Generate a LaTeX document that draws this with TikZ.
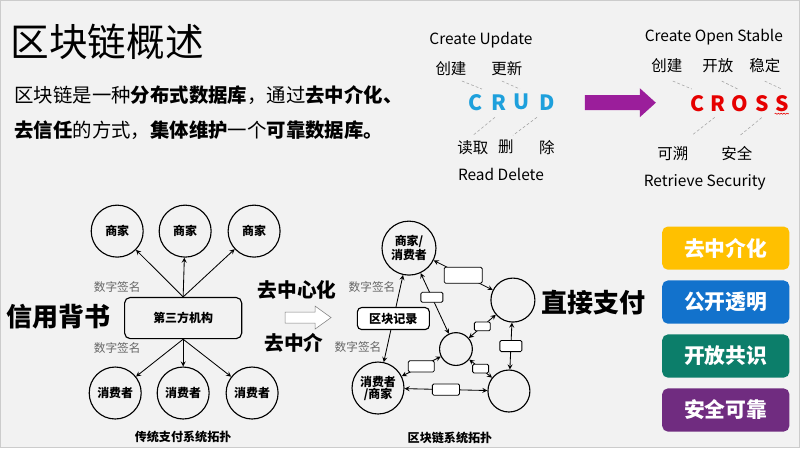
\documentclass[tikz,border=0pt]{standalone}
\usepackage{fontspec}
\setmainfont{Noto Sans CJK SC}
\usetikzlibrary{decorations.pathmorphing}
\definecolor{bg}{RGB}{242,242,242}
\definecolor{crudblue}{RGB}{30,160,220}
\definecolor{crossred}{RGB}{230,0,0}
\definecolor{arrowpurple}{RGB}{155,30,155}
\definecolor{boxyellow}{RGB}{255,192,0}
\definecolor{boxblue}{RGB}{18,114,204}
\definecolor{boxgreen}{RGB}{12,126,106}
\definecolor{boxpurple}{RGB}{112,44,128}
\newcommand{\fsz}[1]{\fontsize{#1}{#1}\selectfont}
\tikzset{
    ttl/.style={font=\fsz{27.5}, inner sep=0pt},
    intro/.style={font=\fsz{13.8}, inner sep=0pt},
    lbl/.style={font=\fsz{11}, inner sep=1pt},
    letter/.style={font=\fsz{15}\bfseries, inner sep=0pt},
    hint/.style={gray!70, dashed, dash pattern=on 2pt off 1.5pt},
    circ/.style={draw, circle, line width=0.8pt, minimum size=#1, inner sep=0pt,
        font=\fsz{8.5}\bfseries, align=center},
    tpbox/.style={draw, rounded corners=4pt, line width=0.8pt, minimum width=2.93cm,
        minimum height=1.03cm, font=\fsz{8.5}\bfseries},
    recbox/.style={draw, fill=white, rounded corners=3pt, line width=0.8pt, minimum width=1.8cm,
        minimum height=0.55cm, inner sep=0pt, font=\fsz{8.6}\bfseries},
    tag/.style 2 args={draw, fill=white, rounded corners=1pt, line width=0.6pt,
        minimum width=#1, minimum height=#2, inner sep=0pt},
    sig/.style={font=\fsz{8.3}, text=gray!80!black},
    topocap/.style={font=\fsz{8.6}\bfseries},
    big/.style={font=\fsz{18.5}\bfseries},
    mid/.style={font=\fsz{14}\bfseries},
    feat/.style={rounded corners=4pt, minimum width=3.18cm, minimum height=1.08cm,
        text=white, font=\fsz{14.8}\bfseries},
    link/.style={line width=0.6pt}
}
\begin{document}
\begin{tikzpicture}[x=0.025cm, y=-0.025cm, >=stealth]
    \fill[bg] (0,0) rectangle (800,447);
    \draw[gray!40] (0,0) rectangle (800,447);

    \node[ttl] (head) at (107,42) {区块链概述};
    \node[intro, anchor=west] (line1) at (14,95) {区块链是一种\textbf{分布式数据库}，通过\textbf{去中介化、}};
    \node[intro, anchor=west] (line2) at (14,130) {\textbf{去信任}的方式，\textbf{集体维护}一个\textbf{可靠数据库。}};

    \node[lbl] (crudtop) at (481,40) {Create Update};
    \node[lbl] (cj) at (451,68) {创建};
    \node[lbl] (gx) at (507,68) {更新};
    \foreach \l/\x [count=\i] in {C/476,R/499,U/522,D/547}
        \node[letter, text=crudblue] (crud\i) at (\x,102) {\l};
    \node[lbl] (dq) at (473,147) {读取};
    \node[lbl] (sc) at (506,147) {删};
    \node[lbl] (ch) at (547,147) {除};
    \node[lbl] (crudbot) at (501,174) {Read Delete};
    \draw[hint] (cj.south) ++(11,4) -- ++(20,8);
    \draw[hint] (gx.south) ++(-5,4) -- ++(18,8);
    \draw[hint] (crud2.south) ++(-4,7) -- ++(-22,18);
    \draw[hint] (crud4.south) ++(-10,7) -- ++(-24,18);

    \fill[arrowpurple] (585,95) -- (640,95) -- (640,88) -- (656,102.5) -- (640,117)
        -- (640,110) -- (585,110) -- cycle;

    \node[lbl] (crosstop) at (714,37) {Create Open Stable};
    \node[lbl] (cj2) at (667,65) {创建};
    \node[lbl] (kf) at (718,65) {开放};
    \node[lbl] (wd) at (765,65) {稳定};
    \foreach \l/\x [count=\i] in {C/698,R/718,O/740,S/762,S/782}
        \node[letter, text=crossred] (cross\i) at (\x,103) {\l};
    \draw[crossred, decorate, decoration={snake, amplitude=0.4pt, segment length=2pt}]
        ([yshift=-1.5pt]cross5.south west) -- ([yshift=-1.5pt]cross5.south east);
    \node[lbl] (ks) at (673,153) {可溯};
    \node[lbl] (aq) at (737,153) {安全};
    \node[lbl] (crossbot) at (705,182) {Retrieve Security};
    \draw[hint] (cj2.south) ++(6,7) -- ++(19,8);
    \draw[hint] (kf.south) ++(4,7) -- ++(16,8);
    \draw[hint] (wd.south) ++(0,7) -- ++(17,8);
    \draw[hint] (cross2.south) ++(-3,6) -- ++(-23,18);
    \draw[hint] (cross4.south) ++(0,6) -- ++(-22,18);

    \foreach \x [count=\i] in {117,185,254}
        \node[circ=1.3cm] (m\i) at (\x,231) {商家};
    \node[tpbox] (tp) at (183,318) {第三方机构};
    \foreach \x [count=\i] in {115,183,252}
        \node[circ=1.3cm] (u\i) at (\x,393) {消费者};
    \foreach \i in {1,2,3} {
        \draw[link, ->] (tp.north) -- (m\i);
        \draw[link, ->] (tp.south) -- (u\i);
    }
    \node[sig] (sg1) at (117,287) {数字签名};
    \node[sig] (sg2) at (117,348) {数字签名};
    \node[big] (xy) at (58,317) {信用背书};
    \node[topocap] (cap1) at (183,437) {传统支付系统拓扑};

    \node[mid] (qzx) at (297,290) {去中心化};
    \node[mid] (qzj) at (294,343) {去中介};
    \draw[gray, fill=white] (285,312) -- (315,312) -- (315,306) -- (331,317.5) -- (315,329)
        -- (315,323) -- (285,323) -- cycle;

    \node[circ=1.35cm] (A) at (409,248) {商家/\\消费者};
    \node[circ=1.3cm] (E) at (378,388) {消费者\\/商家};
    \node[circ=1.1cm] (B) at (513,300) {};
    \node[circ=0.82cm] (C) at (456,349) {};
    \node[circ=1.05cm] (D) at (509,391) {};
    \draw[link, <->] (A) -- (E) node[midway, recbox] (rec) {区块记录};
    \draw[link, <->] (A) -- (B) node[midway, tag={0.95cm}{0.4cm}] (ab) {};
    \draw[link, <->] (A) -- (C) node[pos=0.4, tag={0.55cm}{0.25cm}] (ac) {};
    \draw[link, <->] (C) -- (B) node[midway, tag={0.4cm}{0.22cm}] (cb) {};
    \draw[link, <->] (B) -- (D) node[midway, tag={0.55cm}{0.28cm}] (bd) {};
    \draw[link, <->] (C) -- (D) node[midway, tag={0.4cm}{0.22cm}] (cd) {};
    \draw[link, <->] (C) -- (E) node[midway, tag={0.65cm}{0.28cm}] (ce) {};
    \draw[link, <->] (E) -- (D) node[midway, tag={0.68cm}{0.28cm}] (ed) {};
    \node[sig] (sg3) at (372,287) {数字签名};
    \node[sig] (sg4) at (358,347) {数字签名};
    \node[topocap] (cap2) at (450,438) {区块链系统拓扑};
    \node[big] (zj) at (594,303) {直接支付};

    \foreach \t/\c/\y [count=\i] in {去中介化/boxyellow/248,公开透明/boxblue/302,开放共识/boxgreen/356,安全可靠/boxpurple/410}
        \node[feat, fill=\c] (f\i) at (726,\y) {\t};
\end{tikzpicture}
\end{document}
